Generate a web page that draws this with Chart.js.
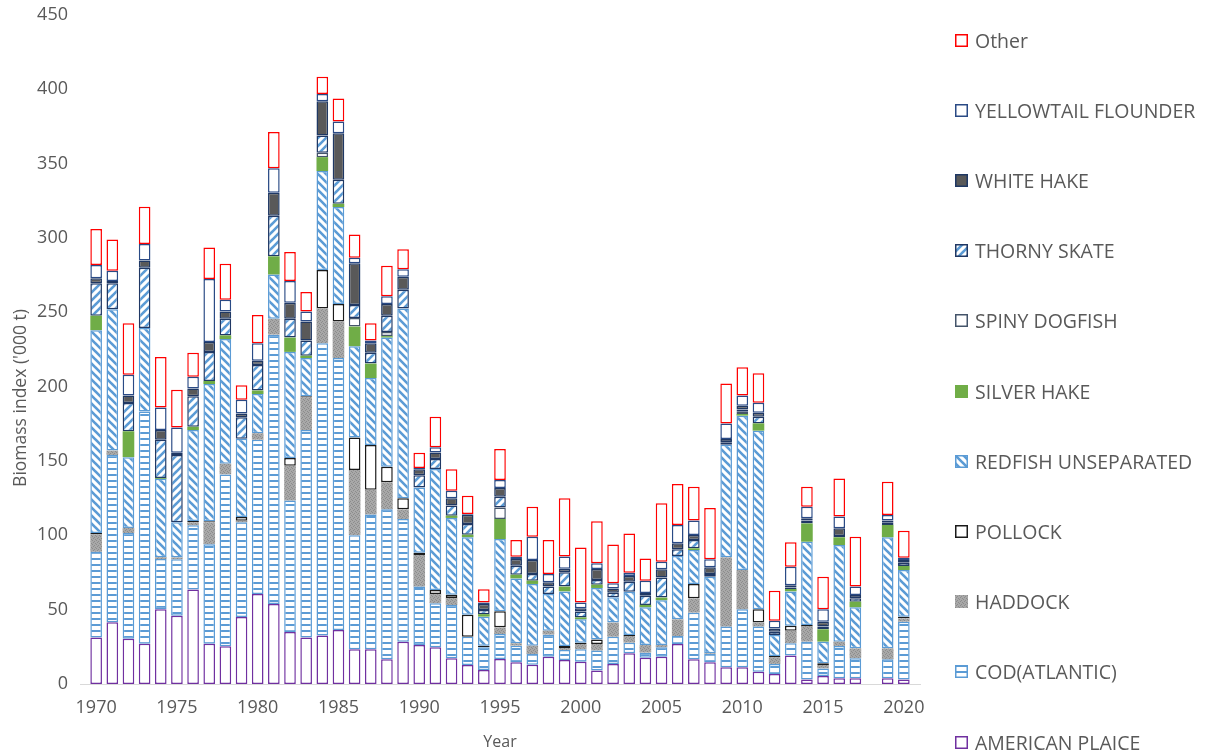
<!DOCTYPE html>
<html>
<head>
<meta charset="utf-8">
<script src="https://cdn.jsdelivr.net/npm/chart.js@4.4.1/dist/chart.umd.min.js"></script>
<style>
  html, body { margin: 0; padding: 0; background: #ffffff; }
  #wrap { position: relative; width: 1209px; height: 755px; }
  #c { position: absolute; left: 0; top: 0; }
  #legend { position: absolute; left: 0; top: 0; width: 1209px; height: 755px; pointer-events: none; }
  .li { position: absolute; left: 955px; height: 26px; display: flex; align-items: center;
        font-family: "Open Sans", "Noto Sans", sans-serif; font-size: 19.5px; color: #595959; white-space: nowrap; }
  .li canvas { margin-right: 7px; }
  #ytitle { position: absolute; left: 19px; top: 398px; width: 260px; text-align: center;
            transform: translate(-50%, -50%) rotate(-90deg);
            font-family: "Open Sans", "Noto Sans", sans-serif; font-size: 17.5px; color: #595959; white-space: nowrap; }
</style>
</head>
<body>
<div id="wrap">
  <canvas id="c" width="1209" height="755"></canvas>
  <div id="legend"></div>
  <div id="ytitle"></div>
</div>
<script>
// ---------- data ----------
const years = [1970,1971,1972,1973,1974,1975,1976,1977,1978,1979,
               1980,1981,1982,1983,1984,1985,1986,1987,1988,1989,
               1990,1991,1992,1993,1994,1995,1996,1997,1998,1999,
               2000,2001,2002,2003,2004,2005,2006,2007,2008,2009,
               2010,2011,2012,2013,2014,2015,2016,2017,2019,2020];

const xTickYears = [1970,1975,1980,1985,1990,1995,2000,2005,2010,2015,2020];
const yAxisTitle = "Biomass index ('000 t)";
const xAxisTitle = 'Year';

const americanPlaice = [31.3,41.5,30.4,27,50.3,45.9,63.5,27,25.4,45,
  60.5,53.8,35,31.3,32.7,36.3,23.4,23.4,16.7,28.4,
  26.3,24.7,17.3,12.8,9.4,16.8,14.6,13,18.4,16.1,
  15,9,13.5,20.6,17.7,18.4,26.9,16.6,14.6,11.2,
  11.2,8.3,6.7,19.1,3,5.4,3.8,3.8,3.8,3];
const codAtlantic = [57.6,112.5,71.1,156.3,33.7,38,43.2,67,115.6,63.8,
  103.8,181.2,88.4,139.5,196.5,183,76.6,90.6,100.8,82.6,
  39.2,29.6,35.8,19,15.3,16.8,11.2,7.2,14.8,6.8,
  8.3,13.5,18.3,7.2,3.4,6.3,5.4,31.4,5.6,27.4,
  39,30.3,6.8,8.3,25.5,5.1,21.8,13.5,12.8,38.9];
const haddock = [11.7,3,3.5,0,1.3,1.2,2.1,14.8,7.2,1,
  4.4,10.6,23.4,22.2,23.4,24.6,43.9,16.7,18.2,6.5,
  21.3,6.2,4.7,0,0,4.5,1.6,5.6,2.7,1.3,
  3.6,4.4,9.5,4.5,5.1,1.5,11.2,9.6,0.5,46.6,
  26.5,2.7,4.4,8.5,10.5,2.3,2.9,6.7,7.4,2.3];
const pollock = [0.9,0,0,0,0,0,0.8,0.6,0,2.5,
  0,0,5.2,0.6,25.8,11.7,21.9,30.1,10.5,7.4,
  1.5,2.7,2.3,14.8,1.1,10.8,0,0,0,1.4,
  0.9,3.1,0,0.7,0,0,0,9.7,0,0,
  0,8.9,0.9,3.3,0.7,1.1,0,0,0,1.1];
const redfishUnseparated = [136.5,95,47.6,56.2,52.7,23.7,61.2,92.4,83.8,52.7,
  26.3,29.8,71.4,25.7,66.6,65.2,61.4,45,86.8,127.7,
  43.9,81.4,51.6,52.1,19.5,48.6,43.6,41.5,24.6,36.7,
  15.7,34.6,17,29.1,25.4,30.1,42.6,22.8,51.5,75.8,
  103.8,120.2,14.2,23.1,56,14.6,65,27.6,74.7,31.4];
const silverHake = [9.7,0,17.4,0,0.6,0,2.2,2,2.5,0,
  2.4,12.3,9.6,1.5,9.4,2.2,13.2,9.7,1,0,
  0,0,1.5,1.7,1.7,13.5,2.5,2.2,0,3.2,
  1.3,2.2,0,0,1.6,1.8,0,1.2,0,0,
  1.1,4.9,0,1.6,12.3,8.3,5.2,3.8,8.3,2.7];
const spinyDogfish = [0,0,0,0,0,0,0,0,0,0,
  0,0,0,0,3,0,5.8,0,2.8,0,
  0,0,0,0,0,7.8,0,0,0,0,
  0,0,0,0,0,0,0,0,0,0,
  1.5,0,0,0,0,0,0,0,0,0];
const thornySkate = [21.9,17.6,19,40.5,25.7,45.2,20.6,19.6,11.1,14.5,
  17.2,27.2,12.6,10.2,11.6,16.2,8.8,7.3,10.9,12.6,
  8.2,6.7,6.8,7.2,2.8,7.2,6.1,4.5,5,9.6,
  3.9,3.2,3.1,6.7,6.2,13.5,4.5,5.6,1.8,1.6,
  1.5,4.5,2.2,1,1.9,1.8,0.9,2.2,1.5,2.2];
const whiteHake = [3.4,1.4,5,4.8,6.5,1.5,5.2,6.6,5,2.4,
  2.9,15.5,10.8,12.9,23,31.3,28,6.4,7.9,8.8,
  4,4.5,4.9,6.3,4,5.8,4.5,9.4,2.9,2.4,
  2.3,7.4,2.9,3.8,1.8,5.6,4,3.3,4.5,2.2,
  2.5,2.7,2.2,1.5,1.6,3.3,5.1,2.3,1.4,1.8];
const yellowtailFlounder = [8.9,7,14,11.2,15.2,17,7.9,42.5,7.9,9.3,
  11.7,16.6,14.6,6.7,4.8,7.9,3.7,1.8,5.2,5,
  0.9,3.4,5.1,0.4,1.1,5.4,1.5,15.7,5.6,8.3,
  3.8,3.8,3.4,2.3,8.3,5.1,12.3,9.7,5.4,10.5,
  7,6.7,5.2,12.5,7.8,8.3,7.9,5.6,3.8,1.6];
const other = [24.1,21,34.7,25,33.9,25.5,16.1,21.1,24.2,9.7,
  19,24.3,19.6,13.1,11.7,15.5,15.6,11.7,20.5,13.4,
  10.3,20.6,14.4,12.4,8.8,20.8,11.3,20.2,22.9,39.1,
  37.1,28.2,26.2,26.4,15,39.2,27.6,22.8,34.5,26.9,
  19,19.8,20.2,16.4,13.4,22,25.7,33.6,22.3,18.1];

const seriesNames = ['AMERICAN PLAICE','COD(ATLANTIC)','HADDOCK','POLLOCK','REDFISH UNSEPARATED',
  'SILVER HAKE','SPINY DOGFISH','THORNY SKATE','WHITE HAKE','YELLOWTAIL FLOUNDER','Other'];
const seriesValues = [americanPlaice, codAtlantic, haddock, pollock, redfishUnseparated,
  silverHake, spinyDogfish, thornySkate, whiteHake, yellowtailFlounder, other];

// ---------- styles ----------
function makePattern(kind, color, bg) {
  const c = document.createElement('canvas');
  const g = c.getContext('2d');
  if (kind === 'h') {
    c.width = 6; c.height = 6;
    g.fillStyle = bg; g.fillRect(0, 0, 6, 6);
    g.fillStyle = color; g.fillRect(0, 0, 6, 2);
  } else if (kind === 'stipple') {
    c.width = 4; c.height = 4;
    g.fillStyle = bg; g.fillRect(0, 0, 4, 4);
    g.fillStyle = color;
    g.fillRect(0, 0, 1, 1); g.fillRect(2, 1, 1, 1); g.fillRect(1, 2, 1, 1); g.fillRect(3, 3, 1, 1);
  } else {
    const s = 8;
    c.width = s; c.height = s;
    g.fillStyle = bg; g.fillRect(0, 0, s, s);
    g.strokeStyle = color; g.lineWidth = 2.6; g.lineCap = 'square';
    g.beginPath();
    for (const k of [-s, 0, s]) {
      if (kind === 'down') { g.moveTo(k, 0); g.lineTo(k + s, s); }
      else { g.moveTo(k, s); g.lineTo(k + s, 0); }
    }
    g.stroke();
  }
  return g.createPattern(c, 'repeat');
}

const styles = [
  { bg: '#ffffff', border: '#7030A0', bw: 1.5 },
  { bg: makePattern('h', '#5B9BD5', '#ffffff'), border: '#5B9BD5', bw: 1.5 },
  { bg: makePattern('stipple', '#8C8C8C', '#A8A8A8'), border: '#A5A5A5', bw: 0 },
  { bg: '#ffffff', border: '#1A1A1A', bw: 1.5 },
  { bg: makePattern('down', '#5B9BD5', '#ffffff'), border: '#5B9BD5', bw: 1.5 },
  { bg: '#70AD47', border: '#70AD47', bw: 0 },
  { bg: '#ffffff', border: '#44546A', bw: 1.5 },
  { bg: makePattern('up', '#5B9BD5', '#ffffff'), border: '#203864', bw: 1.5 },
  { bg: '#595959', border: '#1F3864', bw: 1.5 },
  { bg: '#ffffff', border: '#2A4A85', bw: 1.5 },
  { bg: '#ffffff', border: '#FF0000', bw: 1.5 }
];

const datasets = seriesNames.map((name, i) => ({
  label: name,
  data: years.map((yr, j) => ({ x: yr, y: seriesValues[i][j] })),
  backgroundColor: styles[i].bg,
  borderColor: styles[i].border,
  borderWidth: styles[i].bw,
  borderSkipped: false,
  categoryPercentage: 1,
  barPercentage: 0.72,
  stack: 's'
}));

const textColor = '#595959';
const fontFam = '"Open Sans", "Noto Sans", sans-serif';

new Chart(document.getElementById('c'), {
  type: 'bar',
  data: { datasets },
  options: {
    responsive: false,
    animation: false,
    devicePixelRatio: 1,
    layout: { padding: { left: 0, right: 289, top: 15, bottom: 0 } },
    plugins: { legend: { display: false }, tooltip: { enabled: false } },
    scales: {
      x: {
        type: 'linear',
        stacked: true,
        offset: false,
        min: 1969,
        max: 2021,
        afterFit: (s) => { s.height = 71; },
        afterBuildTicks: (s) => { s.ticks = xTickYears.map(v => ({ value: v })); },
        grid: { display: false, drawTicks: true, tickLength: 13 },
        border: { display: true, color: '#D9D9D9', width: 1 },
        ticks: {
          autoSkip: false, maxRotation: 0, padding: 0,
          color: textColor, font: { family: fontFam, size: 18 },
          callback: (v) => String(v)
        },
        title: { display: true, text: xAxisTitle, color: textColor,
                 font: { family: fontFam, size: 16 }, padding: { top: 0, bottom: 3 } }
      },
      y: {
        stacked: true,
        min: 0, max: 450,
        afterFit: (s) => { s.width = 80; },
        grid: { display: false, drawTicks: true, tickLength: 12 },
        border: { display: false },
        ticks: { stepSize: 50, padding: 0, color: textColor, font: { family: fontFam, size: 18 } },
        title: { display: false }
      }
    }
  }
});

document.getElementById('ytitle').textContent = yAxisTitle;

// ---------- legend (HTML, reversed order as in the reference) ----------
const legendEl = document.getElementById('legend');
const order = seriesNames.map((_, i) => i).reverse();
order.forEach((idx, k) => {
  const row = document.createElement('div');
  row.className = 'li';
  const cy = 40 + k * 70.2;
  row.style.top = (cy - 13) + 'px';
  const sw = document.createElement('canvas');
  sw.width = 13; sw.height = 13;
  const g = sw.getContext('2d');
  const st = styles[idx];
  g.fillStyle = st.bg; g.fillRect(0, 0, 13, 13);
  if (st.bw > 0) { g.strokeStyle = st.border; g.lineWidth = 1.5; g.strokeRect(0.75, 0.75, 11.5, 11.5); }
  const sp = document.createElement('span');
  sp.textContent = seriesNames[idx];
  row.appendChild(sw); row.appendChild(sp);
  legendEl.appendChild(row);
});
</script>
</body>
</html>
